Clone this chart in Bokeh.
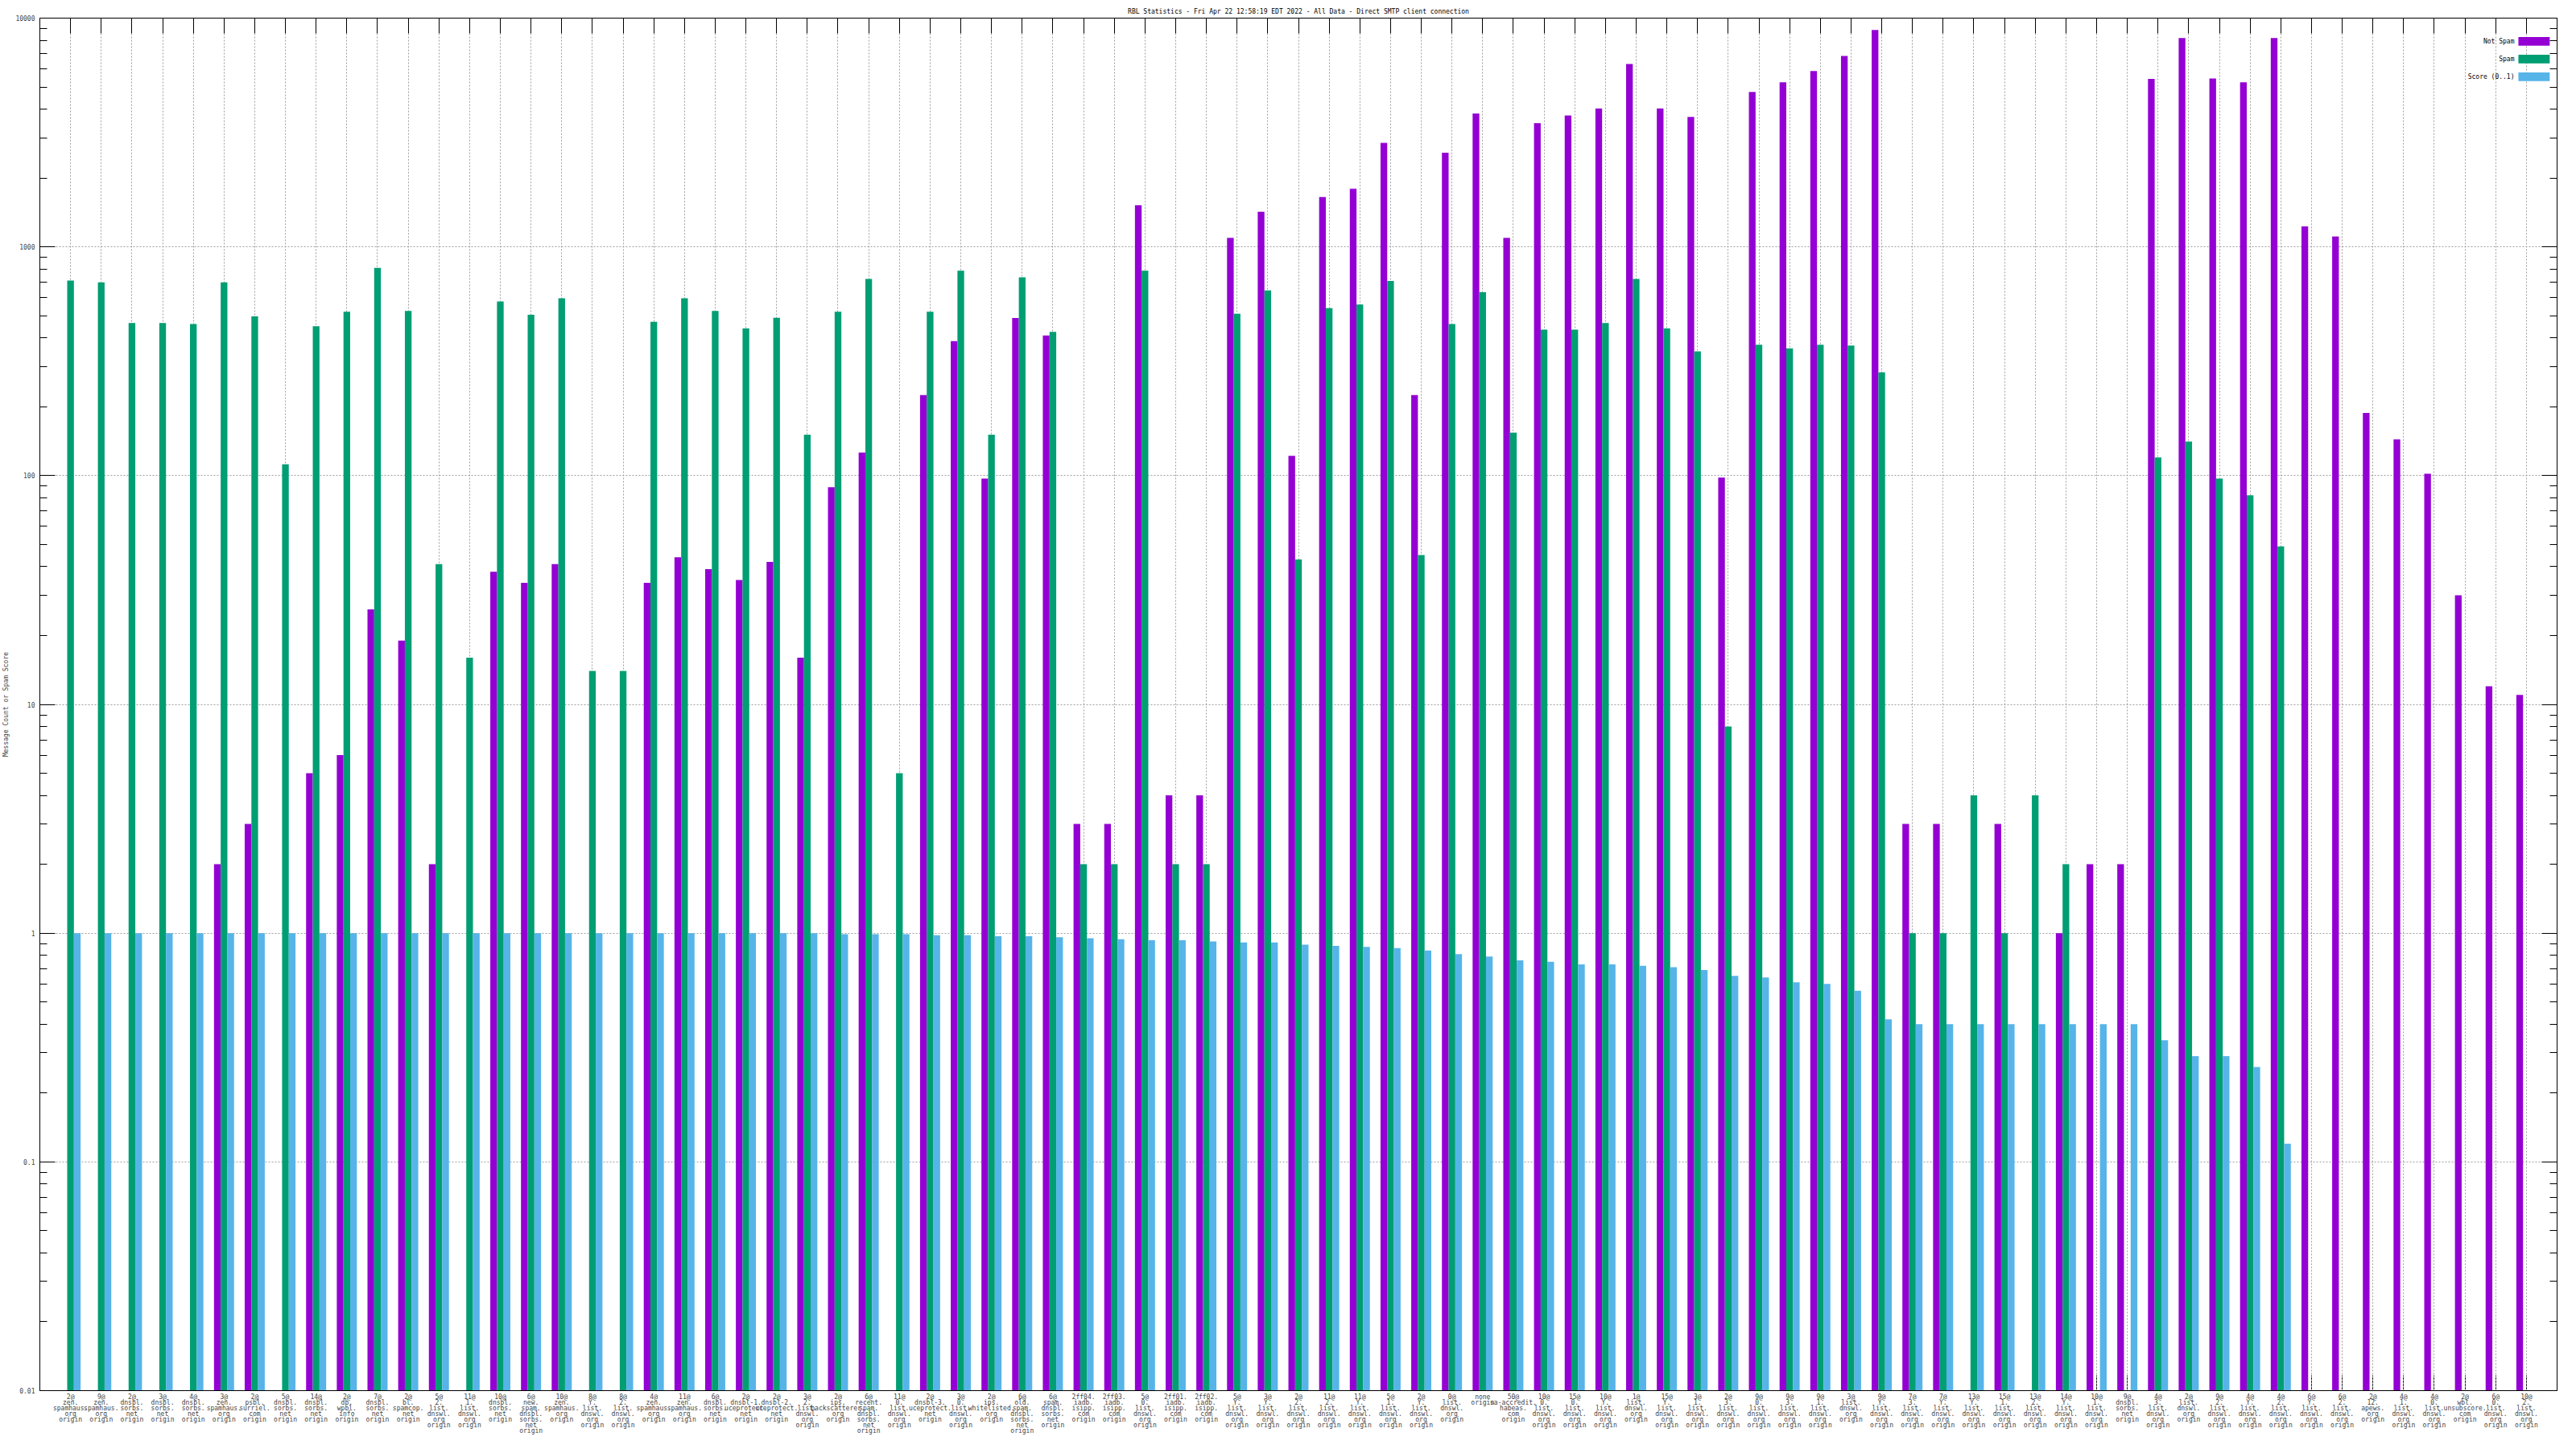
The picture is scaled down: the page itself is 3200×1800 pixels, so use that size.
import numpy as np
from bokeh.plotting import figure
from bokeh.models import (ColumnDataSource, FixedTicker, LinearAxis, LogAxis, Label,
                          BoxAnnotation, CustomJSTickFormatter, Range1d)
from bokeh.embed import file_html
from bokeh.resources import INLINE

nan = float("nan")

title_text = "RBL Statistics - Fri Apr 22 12:58:19 EDT 2022 - All Data - Direct SMTP client connection"
y_label = "Message Count or Spam Score"
series_names = ["Not Spam", "Spam", "Score (0..1)"]
series_colors = ["#9400D3", "#009E73", "#56B4E9"]

labels = [
    "2@\nzen.\nspamhaus.\norg\norigin",
    "9@\nzen.\nspamhaus.\norg\norigin",
    "2@\ndnsbl.\nsorbs.\nnet\norigin",
    "3@\ndnsbl.\nsorbs.\nnet\norigin",
    "4@\ndnsbl.\nsorbs.\nnet\norigin",
    "3@\nzen.\nspamhaus.\norg\norigin",
    "2@\npsbl.\nsurriel.\ncom\norigin",
    "5@\ndnsbl.\nsorbs.\nnet\norigin",
    "14@\ndnsbl.\nsorbs.\nnet\norigin",
    "2@\ndb.\nwpbl.\ninfo\norigin",
    "7@\ndnsbl.\nsorbs.\nnet\norigin",
    "2@\nbl.\nspamcop.\nnet\norigin",
    "5@\n2.\nlist.\ndnswl.\norg\norigin",
    "11@\n1.\nlist.\ndnswl.\norg\norigin",
    "10@\ndnsbl.\nsorbs.\nnet\norigin",
    "6@\nnew.\nspam.\ndnsbl.\nsorbs.\nnet\norigin",
    "10@\nzen.\nspamhaus.\norg\norigin",
    "8@\nY.\nlist.\ndnswl.\norg\norigin",
    "8@\n2.\nlist.\ndnswl.\norg\norigin",
    "4@\nzen.\nspamhaus.\norg\norigin",
    "11@\nzen.\nspamhaus.\norg\norigin",
    "6@\ndnsbl.\nsorbs.\nnet\norigin",
    "2@\ndnsbl-1.\nuceprotect.\nnet\norigin",
    "2@\ndnsbl-2.\nuceprotect.\nnet\norigin",
    "3@\n2.\nlist.\ndnswl.\norg\norigin",
    "2@\nips.\nbackscatterer.\norg\norigin",
    "6@\nrecent.\nspam.\ndnsbl.\nsorbs.\nnet\norigin",
    "11@\n0.\nlist.\ndnswl.\norg\norigin",
    "2@\ndnsbl-3.\nuceprotect.\nnet\norigin",
    "3@\n0.\nlist.\ndnswl.\norg\norigin",
    "2@\nips.\nwhitelisted.\norg\norigin",
    "6@\nold.\nspam.\ndnsbl.\nsorbs.\nnet\norigin",
    "6@\nspam.\ndnsbl.\nsorbs.\nnet\norigin",
    "2ff04.\niadb.\nisipp.\ncom\norigin",
    "2ff03.\niadb.\nisipp.\ncom\norigin",
    "5@\n0.\nlist.\ndnswl.\norg\norigin",
    "2ff01.\niadb.\nisipp.\ncom\norigin",
    "2ff02.\niadb.\nisipp.\ncom\norigin",
    "5@\nY.\nlist.\ndnswl.\norg\norigin",
    "3@\nY.\nlist.\ndnswl.\norg\norigin",
    "2@\n2.\nlist.\ndnswl.\norg\norigin",
    "11@\n2.\nlist.\ndnswl.\norg\norigin",
    "11@\nY.\nlist.\ndnswl.\norg\norigin",
    "5@\n1.\nlist.\ndnswl.\norg\norigin",
    "2@\nY.\nlist.\ndnswl.\norg\norigin",
    "0@\nlist.\ndnswl.\norg\norigin",
    "none\norigin",
    "50@\nsa-accredit.\nhabeas.\ncom\norigin",
    "10@\n0.\nlist.\ndnswl.\norg\norigin",
    "15@\n0.\nlist.\ndnswl.\norg\norigin",
    "10@\nY.\nlist.\ndnswl.\norg\norigin",
    "1@\nlist.\ndnswl.\norg\norigin",
    "15@\nY.\nlist.\ndnswl.\norg\norigin",
    "3@\n1.\nlist.\ndnswl.\norg\norigin",
    "2@\n3.\nlist.\ndnswl.\norg\norigin",
    "9@\n0.\nlist.\ndnswl.\norg\norigin",
    "9@\n3.\nlist.\ndnswl.\norg\norigin",
    "9@\n1.\nlist.\ndnswl.\norg\norigin",
    "3@\nlist.\ndnswl.\norg\norigin",
    "9@\nY.\nlist.\ndnswl.\norg\norigin",
    "7@\n3.\nlist.\ndnswl.\norg\norigin",
    "7@\nY.\nlist.\ndnswl.\norg\norigin",
    "13@\nY.\nlist.\ndnswl.\norg\norigin",
    "15@\n1.\nlist.\ndnswl.\norg\norigin",
    "13@\n2.\nlist.\ndnswl.\norg\norigin",
    "14@\nY.\nlist.\ndnswl.\norg\norigin",
    "10@\n1.\nlist.\ndnswl.\norg\norigin",
    "9@\ndnsbl.\nsorbs.\nnet\norigin",
    "4@\n3.\nlist.\ndnswl.\norg\norigin",
    "2@\nlist.\ndnswl.\norg\norigin",
    "9@\n2.\nlist.\ndnswl.\norg\norigin",
    "4@\nY.\nlist.\ndnswl.\norg\norigin",
    "4@\n2.\nlist.\ndnswl.\norg\norigin",
    "6@\nY.\nlist.\ndnswl.\norg\norigin",
    "6@\n2.\nlist.\ndnswl.\norg\norigin",
    "2@\n12.\napews.\norg\norigin",
    "4@\n1.\nlist.\ndnswl.\norg\norigin",
    "4@\n0.\nlist.\ndnswl.\norg\norigin",
    "2@\nwbl.\nunsubscore.\ncom\norigin",
    "6@\n0.\nlist.\ndnswl.\norg\norigin",
    "10@\n2.\nlist.\ndnswl.\norg\norigin",
]

not_spam = [nan, nan, nan, nan, nan, 2, 3, nan, 5, 6,
            26, 19, 2, nan, 38, 34, 41, nan, nan, 34,
            44, 39, 35, 42, 16, 89, 126, nan, 225, 387,
            97, 489, 410, 3, 3, 1520, 4, 4, 1094, 1425,
            122, 1650, 1795, 2850, 225, 2580, 3830, 1094, 3470, 3750,
            4025, 6300, 4030, 3700, 98, 4750, 5240, 5870, 6830, 8880,
            3, 3, nan, 3, nan, 1, 2, 2, 5420, 8180,
            5450, 5240, 8180, 1228, 1110, 188, 144, 102, 30, 12,
            11]

spam = [713, 700, 465, 465, 460, 700, 497, 112, 450, 520,
        810, 525, 41, 16, 577, 505, 596, 14, 14, 470,
        596, 525, 440, 490, 151, 520, 724, 5, 520, 787,
        151, 736, 425, 2, 2, 787, 2, 2, 510, 645,
        43, 540, 560, 710, 45, 460, 634, 154, 435, 435,
        465, 724, 440, 349, 8, 373, 360, 373, 370, 283,
        1, 1, 4, 1, 4, 2, nan, nan, 120, 141,
        97, 82, 49, nan, nan, nan, nan, nan, nan, nan,
        nan]

score = [1.0, 1.0, 1.0, 1.0, 1.0, 1.0, 1.0, 1.0, 1.0, 1.0,
         1.0, 1.0, 1.0, 1.0, 1.0, 1.0, 1.0, 1.0, 1.0, 1.0,
         1.0, 1.0, 1.0, 1.0, 1.0, 0.99, 0.99, 0.99, 0.98, 0.98,
         0.97, 0.97, 0.96, 0.95, 0.94, 0.93, 0.93, 0.92, 0.91, 0.91,
         0.89, 0.88, 0.87, 0.86, 0.84, 0.81, 0.79, 0.76, 0.75, 0.73,
         0.73, 0.72, 0.71, 0.69, 0.65, 0.64, 0.61, 0.60, 0.56, 0.42,
         0.40, 0.40, 0.40, 0.40, 0.40, 0.40, 0.40, 0.40, 0.34, 0.29,
         0.29, 0.26, 0.12, nan, nan, nan, nan, nan, nan, nan,
         nan]

y_ticks = [0.01, 0.1, 1, 10, 100, 1000, 10000]

n = len(labels)
assert len(not_spam) == n and len(spam) == n and len(score) == n

FONT = "DejaVu Sans Mono"
FS = "8px"
BAR_W = 0.218
BASE = y_ticks[0]

xs = np.arange(1, n + 1, dtype=float)
src = ColumnDataSource(dict(
    x_ns=xs - BAR_W,
    x_sp=xs,
    x_sc=xs + BAR_W,
    ns=np.array(not_spam, dtype=float),
    sp=np.array(spam, dtype=float),
    sc=np.array(score, dtype=float),
))

p = figure(width=3184, height=1784,
           x_range=Range1d(0, n + 1), y_range=Range1d(y_ticks[0], y_ticks[-1]),
           y_axis_type="log", output_backend="svg", toolbar_location=None,
           title=title_text, min_border_left=40, min_border_right=8,
           min_border_top=22, min_border_bottom=0)

p.background_fill_color = "white"
p.border_fill_color = "white"
p.outline_line_color = "black"
p.outline_line_width = 1
p.outline_line_alpha = 1

p.title.align = "center"
p.title.text_font = FONT
p.title.text_font_size = FS
p.title.text_font_style = "normal"
p.title.text_color = "black"
p.title.standoff = 7
p.title.offset = 0

for col, key, color in zip(["x_ns", "x_sp", "x_sc"], ["ns", "sp", "sc"], series_colors):
    p.vbar(x=col, top=key, bottom=BASE, width=BAR_W, source=src,
           fill_color=color, line_color=None)

tick_list = [float(v) for v in xs]
x_ticker = FixedTicker(ticks=tick_list, minor_ticks=[])
minor_y = [m * t for t in y_ticks[:-1] for m in range(2, 10)]
y_ticker = FixedTicker(ticks=y_ticks, minor_ticks=minor_y)

label_js = "const L = %r; const i = Math.round(tick) - 1; return (i >= 0 && i < L.length) ? L[i] : '';" % (labels,)

# bottom x axis (labels, no inward ticks so bars are not crossed)
xa = p.xaxis[0]
xa.ticker = x_ticker
xa.formatter = CustomJSTickFormatter(code=label_js)
xa.major_label_text_font = FONT
xa.major_label_text_font_size = FS
xa.major_label_text_line_height = 0.78
xa.major_label_standoff = 3
xa.major_tick_in = 0
xa.major_tick_out = 0
xa.minor_tick_in = 0
xa.minor_tick_out = 0
xa.axis_line_color = "black"

# inward bottom ticks drawn beneath the bars
xticks_under = LinearAxis(ticker=x_ticker, major_tick_in=19, major_tick_out=0,
                          minor_tick_in=0, minor_tick_out=0, axis_line_color=None,
                          major_label_text_font_size="0px", major_label_standoff=0,
                          formatter=CustomJSTickFormatter(code="return '';"),
                          level="underlay")
p.below.insert(0, xticks_under)

# left y axis
ya = p.yaxis[0]
ya.ticker = y_ticker
ya.formatter = CustomJSTickFormatter(code="return String(tick);")
ya.major_label_text_font = FONT
ya.major_label_text_font_size = FS
ya.major_label_standoff = 6
ya.major_tick_in = 19
ya.major_tick_out = 0
ya.minor_tick_in = 9
ya.minor_tick_out = 0
ya.axis_label = y_label
ya.axis_label_text_font = FONT
ya.axis_label_text_font_size = FS
ya.axis_label_text_font_style = "normal"
ya.axis_label_standoff = 4

# mirrored axes (ticks only)
top = LinearAxis(ticker=x_ticker, major_tick_in=19, major_tick_out=0,
                 minor_tick_in=0, minor_tick_out=0,
                 major_label_text_font_size="0px", major_label_standoff=0,
                 formatter=CustomJSTickFormatter(code="return '';"))
p.add_layout(top, "above")
right = LogAxis(ticker=y_ticker, major_tick_in=19, major_tick_out=0,
                minor_tick_in=9, minor_tick_out=0,
                major_label_text_font_size="0px", major_label_standoff=0,
                formatter=CustomJSTickFormatter(code="return '';"))
p.add_layout(right, "right")

# grid
p.xgrid.ticker = x_ticker
p.ygrid.ticker = FixedTicker(ticks=y_ticks, minor_ticks=[])
for g in (p.xgrid, p.ygrid):
    g.grid_line_color = "#a0a0a0"
    g.grid_line_dash = "2 2"
    g.grid_line_width = 1

# legend in gnuplot style (text right-aligned, swatch to the right)
leg_y = [7910, 6620, 5545]
half = 10 ** (5.4 / 285.0)
for name, color, yy in zip(series_names, series_colors, leg_y):
    p.add_layout(Label(x=80.61, y=yy, text=name, text_align="right",
                       text_baseline="middle", text_font=FONT,
                       text_font_size=FS, text_color="black"))
    p.add_layout(BoxAnnotation(left=80.74, right=81.76, bottom=yy / half, top=yy * half,
                               fill_color=color, fill_alpha=1.0, line_color=None,
                               level="overlay"))

open("out.html", "w").write(file_html(p, INLINE))
